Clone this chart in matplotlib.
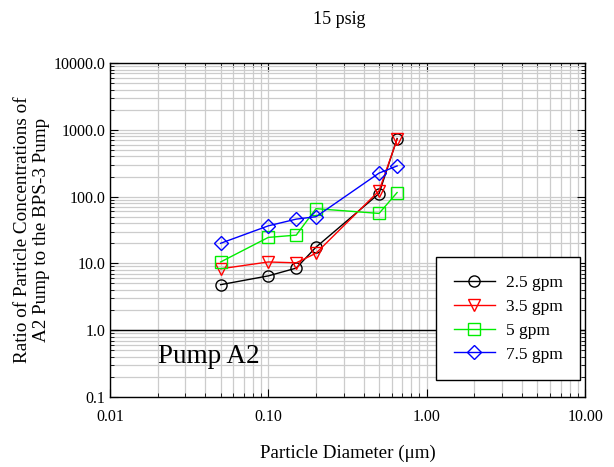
import matplotlib
matplotlib.use("Agg")
import matplotlib.pyplot as plt
from matplotlib.ticker import LogLocator, FormatStrFormatter, NullFormatter

plt.rcParams['font.family'] = ['Liberation Serif', 'DejaVu Serif']

diam = [0.05, 0.1, 0.15, 0.2, 0.5, 0.65]
gpm_2_5 = [4.8, 6.5, 8.5, 17.5, 111, 740]
gpm_3_5 = [8.3, 10.5, 10.2, 14.2, 122, 720]
gpm_5 = [10.5, 24.5, 26.5, 66, 56, 115]
gpm_7_5 = [20, 36.5, 46, 50, 225, 288]
labels = ['2.5 gpm', '3.5 gpm', '5 gpm', '7.5 gpm']
colors = ['black', 'red', '#00ee00', 'blue']
markers = ['o', 'v', 's', 'D']
series = [gpm_2_5, gpm_3_5, gpm_5, gpm_7_5]

fig = plt.figure(figsize=(6.14, 4.67), dpi=100)
ax = fig.add_axes([0.179, 0.15, 0.774, 0.715])
ax.set_xscale('log')
ax.set_yscale('log')
ax.set_xlim(0.01, 10)
ax.set_ylim(0.1, 10000)

ax.xaxis.set_major_locator(LogLocator(base=10, numticks=10))
ax.yaxis.set_major_locator(LogLocator(base=10, numticks=10))
ax.xaxis.set_minor_locator(LogLocator(base=10, subs=range(2, 10), numticks=20))
ax.yaxis.set_minor_locator(LogLocator(base=10, subs=range(2, 10), numticks=20))
ax.xaxis.set_major_formatter(FormatStrFormatter('%.2f'))
ax.yaxis.set_major_formatter(FormatStrFormatter('%.1f'))
ax.xaxis.set_minor_formatter(NullFormatter())
ax.yaxis.set_minor_formatter(NullFormatter())

ax.grid(True, which='both', color='#cccccc', linewidth=0.9)
ax.set_axisbelow(True)
ax.axhline(1.0, color='black', linewidth=1.0, zorder=1.5)

ax.tick_params(which='both', direction='in', top=True, right=True, labelsize=11.5)
ax.tick_params(which='major', length=6)
ax.tick_params(which='minor', length=3)
ax.tick_params(axis='x', pad=9)

for ys, lab, c, m in zip(series, labels, colors, markers):
    ax.plot(diam, ys, color=c, marker=m, markerfacecolor='none', markeredgecolor=c,
            markersize=8 if m != 'D' else 7, linewidth=1.0, label=lab, zorder=3)

leg = ax.legend(loc='lower right', bbox_to_anchor=(0.989, 0.051), fontsize=12.5,
                frameon=True, fancybox=False, edgecolor='black', framealpha=1,
                handlelength=2.4, borderpad=1.0, labelspacing=0.45, handletextpad=0.6,
                borderaxespad=0.0)
leg.get_frame().set_linewidth(1.0)

ax.text(0.101, 0.102, 'Pump A2', transform=ax.transAxes, fontsize=19.5)

ax.set_xlabel('Particle Diameter (\u03bcm)', fontsize=13.7, labelpad=14)
ax.set_ylabel('Ratio of Particle Concentrations of\nA2 Pump to the BPS-3 Pump', fontsize=13.8,
              labelpad=2, linespacing=1.15)
fig.text(0.553, 0.948, '15 psig', ha='center', fontsize=13)

for s in ax.spines.values():
    s.set_linewidth(1.0)

fig.savefig('out.png', dpi=100)
